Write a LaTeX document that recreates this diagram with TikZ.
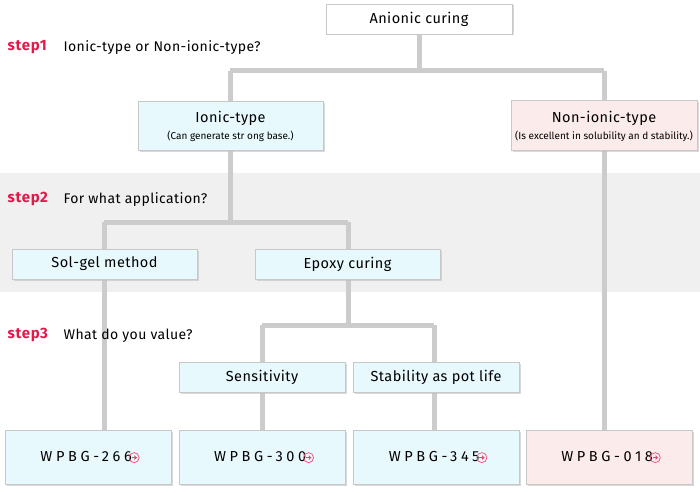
\documentclass[tikz,border=0pt]{standalone}
\usepackage{fontspec}
\setmainfont{Fira Sans}
\usetikzlibrary{shadows}
\definecolor{lineg}{HTML}{CCCCCC}
\definecolor{boxg}{HTML}{C8C8C8}
\definecolor{icy}{HTML}{E8F9FD}
\definecolor{rosy}{HTML}{FCEBEB}
\definecolor{stepred}{HTML}{E0194A}
\newcommand{\goicon}{\tikz[baseline=-3.5pt]{\draw[stepred!70,line width=0.8pt] (0,0) circle (5pt);
	\fill[stepred!80] (-2.5pt,-0.6pt) rectangle (0.5pt,0.6pt);
	\fill[stepred!80] (0.2pt,-2.4pt) -- (2.8pt,0) -- (0.2pt,2.4pt) -- cycle;}}
\tikzset{
	box/.style={draw=boxg, line width=0.8pt, drop shadow={shadow xshift=1.5pt, shadow yshift=-1.5pt, fill=black!25, opacity=0.6}},
	conn/.style={lineg, line width=5pt},
	steplabel/.style={anchor=west, text=stepred, font=\fontsize{15}{17}\selectfont\bfseries\addfontfeature{LetterSpace=5}},
	question/.style={anchor=west, font=\fontsize{14}{16}\selectfont\addfontfeature{LetterSpace=3}},
	boxtext/.style={font=\fontsize{14.5}{17}\selectfont\addfontfeature{LetterSpace=3}},
	product/.style={font=\fontsize{14.5}{17}\selectfont\addfontfeature{LetterSpace=25}}
}
\begin{document}
\begin{tikzpicture}[x=1pt,y=-1pt]
	\useasboundingbox (0,0) rectangle (700,492);
	% background band of step 2
	\fill[black!6] (0,173) rectangle (700,292);
	% connectors
	\draw[conn] (419,34) -- (419,71);
	\draw[conn] (230,71) -- (604,71);
	\draw[conn] (230,71) -- (230,101);
	\draw[conn] (604,71) -- (604,430);
	\draw[conn] (230,150) -- (230,222);
	\draw[conn] (104,222) -- (348,222);
	\draw[conn] (104,222) -- (104,430);
	\draw[conn] (348,222) -- (348,325);
	\draw[conn] (262,325) -- (434,325);
	\draw[conn] (262,325) -- (262,430);
	\draw[conn] (434,325) -- (434,430);
	% boxes
	\draw[box, fill=white] (326,4) rectangle (512,34);
	\draw[box, fill=icy] (138,101) rectangle (323,150);
	\draw[box, fill=rosy] (511,100) rectangle (697,150);
	\draw[box, fill=icy] (12,249) rectangle (197,279);
	\draw[box, fill=icy] (255,249) rectangle (440,279);
	\draw[box, fill=icy] (179,362) rectangle (345,392);
	\draw[box, fill=icy] (353,362) rectangle (519,392);
	\draw[box, fill=icy] (5,430) rectangle (171,484);
	\draw[box, fill=icy] (179,430) rectangle (345,484);
	\draw[box, fill=icy] (353,430) rectangle (519,484);
	\draw[box, fill=rosy] (526,430) rectangle (692,484);
	% texts
	\node[boxtext] (anionic) at (419,19) {Anionic curing};
	\node[boxtext] (ionic) at (230.5,118) {Ionic-type};
	\node[font=\fontsize{10}{12}\selectfont] (ionicnote) at (230.5,136) {(Can generate str ong base.)};
	\node[boxtext] (nonionic) at (604,118) {Non-ionic-type};
	\node[font=\fontsize{10}{12}\selectfont] (nonionicnote) at (604,136) {(Is excellent in solubility an d stability.)};
	\node[boxtext] (solgel) at (104.5,264) {Sol-gel method};
	\node[boxtext] (epoxy) at (347.5,264) {Epoxy curing};
	\node[boxtext] (sensitivity) at (262,377) {Sensitivity};
	\node[boxtext] (stability) at (436,377) {Stability as pot life};
	\node[product] (wpbga) at (90,457) {WPBG-266\hspace{-3pt}\goicon};
	\node[product] (wpbgb) at (264,457) {WPBG-300\hspace{-3pt}\goicon};
	\node[product] (wpbgc) at (438,457) {WPBG-345\hspace{-3pt}\goicon};
	\node[product] (wpbgd) at (611,457) {WPBG-018\hspace{-3pt}\goicon};
	\node[steplabel] (stepa) at (4,47) {step1};
	\node[question] (qa) at (60,48) {Ionic-type or Non-ionic-type?};
	\node[steplabel] (stepb) at (4,199) {step2};
	\node[question] (qb) at (60,200) {For what application?};
	\node[steplabel] (stepc) at (4,335) {step3};
	\node[question] (qc) at (60,336) {What do you value?};
\end{tikzpicture}
\end{document}
